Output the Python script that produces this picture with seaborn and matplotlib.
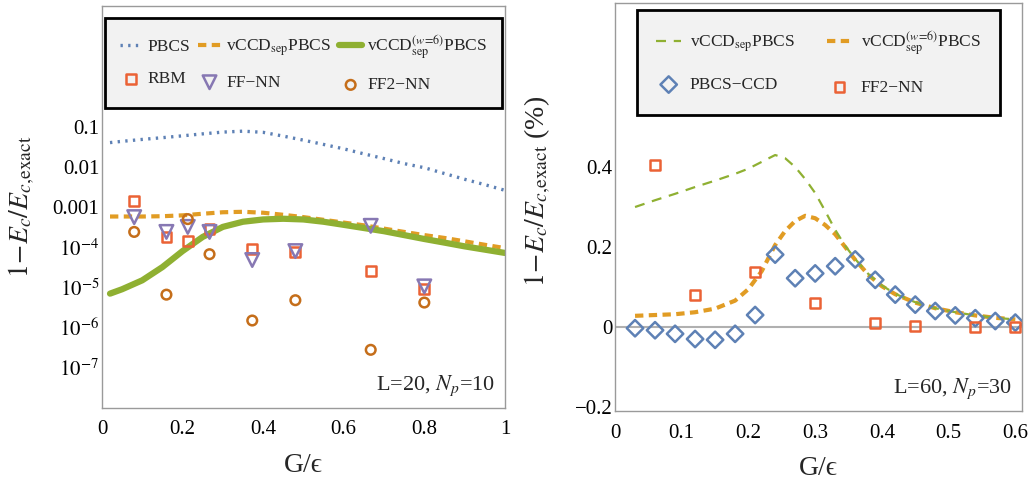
import numpy as np
import pandas as pd
import matplotlib
matplotlib.use("Agg")
import matplotlib.pyplot as plt
import seaborn as sns
from matplotlib.ticker import FixedLocator, FixedFormatter, NullLocator

# ---------------- Left panel data (L=20, Np=10) ----------------
left_curve_g = [0.02, 0.05, 0.10, 0.15, 0.20, 0.25, 0.30, 0.35, 0.40, 0.45, 0.50,
                0.55, 0.60, 0.65, 0.70, 0.75, 0.80, 0.85, 0.90, 0.95, 1.00]
left_pbcs = [0.040, 0.043, 0.048, 0.053, 0.059, 0.066, 0.073, 0.077, 0.072, 0.058, 0.046,
             0.036, 0.028, 0.021, 0.016, 0.012, 0.0095, 0.0068, 0.0049, 0.0036, 0.0026]
left_vccd_sep = [5.8e-4, 5.8e-4, 5.8e-4, 5.9e-4, 6.2e-4, 6.8e-4, 7.4e-4, 7.6e-4, 7.2e-4, 6.4e-4, 5.6e-4,
                 4.8e-4, 4.1e-4, 3.5e-4, 2.9e-4, 2.4e-4, 2.0e-4, 1.7e-4, 1.4e-4, 1.15e-4, 9.5e-5]
left_vccd_w6 = [7e-6, 9e-6, 1.5e-5, 3.2e-5, 8e-5, 1.8e-4, 3.2e-4, 4.3e-4, 4.9e-4, 5.1e-4, 4.9e-4,
                4.3e-4, 3.6e-4, 3.0e-4, 2.5e-4, 2.0e-4, 1.6e-4, 1.3e-4, 1.05e-4, 8.7e-5, 7.2e-5]

left_pts_g = [0.08, 0.16, 0.213, 0.267, 0.373, 0.48, 0.667, 0.8]
left_rbm = [1.4e-3, 1.8e-4, 1.4e-4, 2.8e-4, 8.9e-5, 7.5e-5, 2.5e-5, 9.0e-6]
left_ffnn = [5.6e-4, 2.4e-4, 3.2e-4, 2.4e-4, 4.8e-5, 8.0e-5, 3.4e-4, 1.06e-5]
left_ff2nn = [2.4e-4, 6.6e-6, 5.0e-4, 6.7e-5, 1.5e-6, 4.8e-6, 2.8e-7, 4.2e-6]

left_xticks = [0, 0.2, 0.4, 0.6, 0.8, 1.0]
left_xticklabels = ["0", "0.2", "0.4", "0.6", "0.8", "1"]
left_yticks = [1e-1, 1e-2, 1e-3, 1e-4, 1e-5, 1e-6, 1e-7]
left_yticklabels = ["0.1", "0.01", "0.001", "$10^{-4}$", "$10^{-5}$", "$10^{-6}$", "$10^{-7}$"]

# ---------------- Right panel data (L=60, Np=30) ----------------
right_curve_g = [0.03, 0.06, 0.09, 0.12, 0.15, 0.18, 0.20, 0.22, 0.24, 0.255, 0.27, 0.285, 0.30,
                 0.315, 0.33, 0.345, 0.36, 0.38, 0.40, 0.42, 0.45, 0.48, 0.51, 0.54, 0.57, 0.60]
right_vccd_sep = [0.300, 0.317, 0.333, 0.350, 0.366, 0.383, 0.396, 0.413, 0.430, 0.422, 0.400, 0.370, 0.335,
                  0.290, 0.243, 0.203, 0.170, 0.132, 0.104, 0.083, 0.062, 0.047, 0.037, 0.029, 0.023, 0.019]
right_vccd_w6 = [0.028, 0.030, 0.032, 0.037, 0.046, 0.066, 0.095, 0.140, 0.205, 0.240, 0.265, 0.278, 0.272,
                 0.255, 0.232, 0.200, 0.168, 0.130, 0.102, 0.082, 0.061, 0.047, 0.037, 0.029, 0.023, 0.019]

right_ccd_g = [0.03, 0.06, 0.09, 0.12, 0.15, 0.18, 0.21, 0.24, 0.27, 0.30,
               0.33, 0.36, 0.39, 0.42, 0.45, 0.48, 0.51, 0.54, 0.57, 0.60]
right_pbcs_ccd = [-0.003, -0.008, -0.017, -0.030, -0.032, -0.017, 0.030, 0.181, 0.122, 0.134,
                  0.152, 0.169, 0.118, 0.081, 0.056, 0.040, 0.029, 0.022, 0.015, 0.011]
right_ff2_g = [0.06, 0.12, 0.21, 0.30, 0.39, 0.45, 0.54, 0.60]
right_ff2nn = [0.405, 0.080, 0.138, 0.060, 0.010, 0.003, 0.000, 0.000]

right_xticks = [0, 0.1, 0.2, 0.3, 0.4, 0.5, 0.6]
right_xticklabels = ["0", "0.1", "0.2", "0.3", "0.4", "0.5", "0.6"]
right_yticks = [-0.2, 0, 0.2, 0.4]
right_yticklabels = ["\u22120.2", "0", "0.2", "0.4"]

# ---------------- Style ----------------
sns.set_theme(style="white")
plt.rcParams["font.family"] = ["Liberation Serif", "DejaVu Serif"]
plt.rcParams["mathtext.fontset"] = "stix"

BLUE = "#5E81B5"
ORANGE = "#E19C24"
GREEN = "#8FB032"
RED = "#EB6235"
PURPLE = "#8778B3"
BROWN = "#C56E1A"
FRAME = "#9a9a9a"

fig = plt.figure(figsize=(10.34, 4.8), dpi=100)
axL = fig.add_axes([0.0986, 0.150, 0.3897, 0.8375])
axR = fig.add_axes([0.5948, 0.1437, 0.3936, 0.850])

lbl_sep = "vCCD$_{\\mathrm{sep}}$PBCS"
lbl_w6 = "vCCD$_{\\mathrm{sep}}^{(w\\!=\\!6)}$PBCS"
ylab = "$1\\!-\\!E_c/E_{c,\\!\\mathrm{exact}}$"

# ---------------- Left panel ----------------
axL.set_yscale("log")
sns.lineplot(x=left_curve_g, y=left_pbcs, ax=axL, color=BLUE, lw=2.4,
             linestyle=(0, (0.7, 1.6)), label="PBCS")
sns.lineplot(x=left_curve_g, y=left_vccd_sep, ax=axL, color=ORANGE, lw=3.0,
             linestyle=(0, (2.0, 1.3)), label=lbl_sep)
sns.lineplot(x=left_curve_g, y=left_vccd_w6, ax=axL, color=GREEN, lw=4.5,
             linestyle="-", label=lbl_w6)
sns.scatterplot(x=left_pts_g, y=left_rbm, ax=axL, marker="s", s=50,
                facecolor="none", edgecolor=RED, linewidth=1.8, label="RBM", zorder=3)
sns.scatterplot(x=left_pts_g, y=left_ffnn, ax=axL, marker="v", s=95,
                facecolor="none", edgecolor=PURPLE, linewidth=1.8, label="FF\u2212NN", zorder=4)
sns.scatterplot(x=left_pts_g, y=left_ff2nn, ax=axL, marker="o", s=48,
                facecolor="none", edgecolor=BROWN, linewidth=1.8, label="FF2\u2212NN", zorder=5)

axL.set_xlim(0, 1)
axL.set_ylim(1e-8, 1e2)
axL.xaxis.set_major_locator(FixedLocator(left_xticks))
axL.xaxis.set_major_formatter(FixedFormatter(left_xticklabels))
axL.yaxis.set_major_locator(FixedLocator(left_yticks))
axL.yaxis.set_major_formatter(FixedFormatter(left_yticklabels))
axL.yaxis.set_minor_locator(NullLocator())
axL.text(0.975, 0.045, "L=20, $N_p$=10", transform=axL.transAxes, ha="right",
         va="baseline", fontsize=16)
axL.set_xlabel("G/\u03f5", fontsize=20, labelpad=10)
axL.set_ylabel(ylab, fontsize=20)
axL.yaxis.set_label_coords(-0.16, 0.5)

order_L = ["PBCS", "RBM", lbl_sep, "FF\u2212NN", lbl_w6, "FF2\u2212NN"]
h, l = axL.get_legend_handles_labels()
d = dict(zip(l, h))
legL = axL.legend([d[k] for k in order_L], order_L, ncol=3, loc="upper left",
                  bbox_to_anchor=(0.007, 0.970, 0.986, 0.0), mode="expand",
                  borderaxespad=0, fontsize=12.5, frameon=True, fancybox=False,
                  framealpha=1, facecolor="#f2f2f2", edgecolor="black",
                  handlelength=1.3, handletextpad=0.3, labelspacing=0.95,
                  borderpad=0.85, columnspacing=0.6, scatterpoints=1)
legL.get_frame().set_linewidth(2.0)

# ---------------- Right panel ----------------
axR.axhline(0, color="#b0b0b0", lw=1.5, zorder=1)
sns.lineplot(x=right_curve_g, y=right_vccd_sep, ax=axR, color=GREEN, lw=1.6,
             linestyle=(0, (4.5, 3.5)), label=lbl_sep, zorder=3)
sns.lineplot(x=right_curve_g, y=right_vccd_w6, ax=axR, color=ORANGE, lw=3.0,
             linestyle=(0, (2.0, 1.3)), label=lbl_w6, zorder=2)
sns.scatterplot(x=right_ccd_g, y=right_pbcs_ccd, ax=axR, marker="D", s=70,
                facecolor="none", edgecolor=BLUE, linewidth=1.8, label="PBCS\u2212CCD", zorder=4)
sns.scatterplot(x=right_ff2_g, y=right_ff2nn, ax=axR, marker="s", s=50,
                facecolor="none", edgecolor=RED, linewidth=1.8, label="FF2\u2212NN", zorder=5)

axR.set_xlim(0, 0.61)
axR.set_ylim(-0.21, 0.81)
axR.xaxis.set_major_locator(FixedLocator(right_xticks))
axR.xaxis.set_major_formatter(FixedFormatter(right_xticklabels))
axR.yaxis.set_major_locator(FixedLocator(right_yticks))
axR.yaxis.set_major_formatter(FixedFormatter(right_yticklabels))
axR.text(0.975, 0.045, "L=60, $N_p$=30", transform=axR.transAxes, ha="right",
         va="baseline", fontsize=16)
axR.set_xlabel("G/\u03f5", fontsize=20, labelpad=10)
axR.set_ylabel(ylab + " (%)", fontsize=20)
axR.yaxis.set_label_coords(-0.152, 0.537)

order_R = [lbl_sep, "PBCS\u2212CCD", lbl_w6, "FF2\u2212NN"]
h, l = axR.get_legend_handles_labels()
d = dict(zip(l, h))
legR = axR.legend([d[k] for k in order_R], order_R, ncol=2, loc="upper left",
                  bbox_to_anchor=(0.054, 0.983, 0.892, 0.0), mode="expand",
                  borderaxespad=0, fontsize=12.5, frameon=True, fancybox=False,
                  framealpha=1, facecolor="#f2f2f2", edgecolor="black",
                  handlelength=1.45, handletextpad=0.5, labelspacing=1.3,
                  borderpad=1.1, columnspacing=0.8, scatterpoints=1)
legR.get_frame().set_linewidth(2.0)

for ax in (axL, axR):
    for sp in ax.spines.values():
        sp.set_color(FRAME)
        sp.set_linewidth(1.0)
        sp.set_visible(True)
    ax.tick_params(axis="both", which="major", direction="in", length=5, width=1,
                   color=FRAME, labelsize=15, labelcolor="black")
    ax.tick_params(axis="y", pad=2)
    ax.tick_params(axis="x", pad=9)
    ax.grid(False)

fig.savefig("out.png", dpi=100)
